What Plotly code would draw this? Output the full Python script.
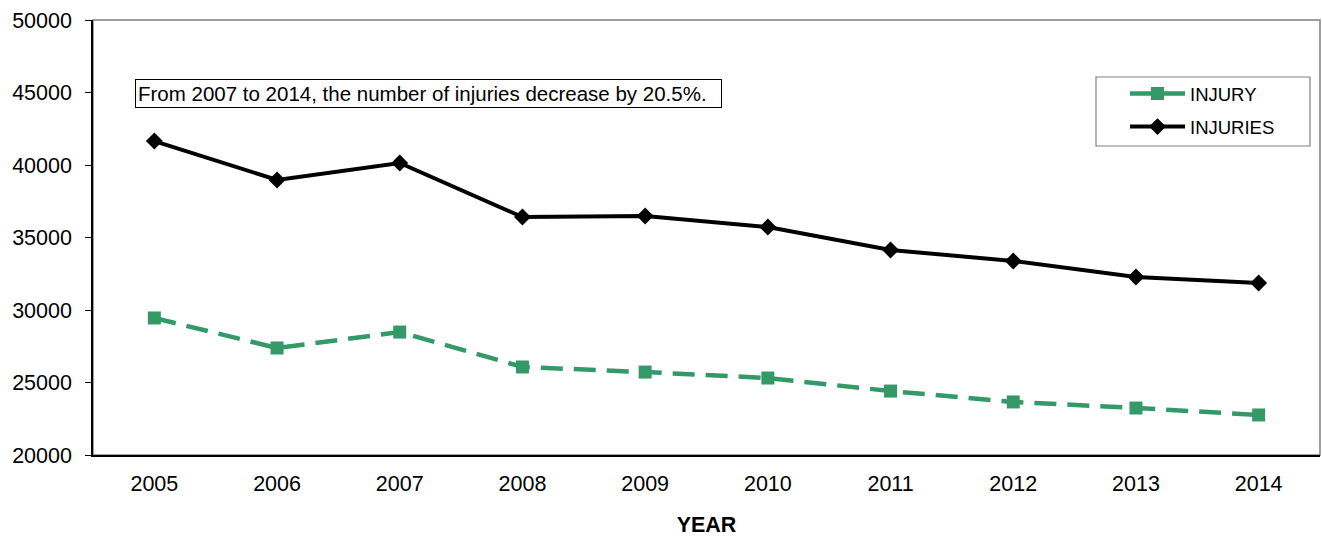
import plotly.graph_objects as go

years = ["2005", "2006", "2007", "2008", "2009", "2010", "2011", "2012", "2013", "2014"]
injury = [29450, 27380, 28480, 26070, 25720, 25310, 24410, 23660, 23240, 22760]
injuries = [41650, 38970, 40140, 36410, 36480, 35720, 34140, 33380, 32280, 31860]
y_ticks = [20000, 25000, 30000, 35000, 40000, 45000, 50000]
y_tick_labels = ["20000", "25000", "30000", "35000", "40000", "45000", "50000"]

GREEN = "#339966"
FONT = "Liberation Sans, Arial, sans-serif"

fig = go.Figure()
fig.add_trace(go.Scatter(
    x=years, y=injury, name="INJURY", mode="lines+markers", legendgroup="a",
    line=dict(color=GREEN, width=4.5, dash="22px,11px"),
    marker=dict(symbol="square", size=13, color=GREEN),
))
fig.add_trace(go.Scatter(
    x=years, y=injuries, name="INJURIES", mode="lines+markers", legendgroup="b",
    line=dict(color="black", width=4),
    marker=dict(symbol="diamond", size=13, color="black"),
))

fig.update_layout(
    width=1322, height=537,
    margin=dict(l=93, r=2, t=20, b=82, autoexpand=False),
    paper_bgcolor="white", plot_bgcolor="white",
    font=dict(family=FONT, size=21, color="black"),
    showlegend=True,
    legend=dict(
        x=(1125 - 93) / 1227, y=(455 - 75) / 435, xanchor="left", yanchor="top",
        bgcolor="rgba(0,0,0,0)", borderwidth=0,
        font=dict(size=18.5), itemwidth=55,
        traceorder="grouped", tracegroupgap=6,
    ),
    xaxis=dict(
        type="category", range=[-0.5, 9.5], automargin=False,
        showline=True, linecolor="black", linewidth=1.5,
        ticks="", showgrid=False, zeroline=False,
        tickfont=dict(size=21.5), ticklabelstandoff=8,
        title=dict(text="<b>YEAR</b>", font=dict(size=21.5), standoff=30),
    ),
    yaxis=dict(
        range=[20000, 50000], tickvals=y_ticks, ticktext=y_tick_labels,
        automargin=False,
        showline=True, linecolor="black", linewidth=1.5,
        ticks="outside", ticklen=6, tickcolor="black",
        showgrid=False, zeroline=False,
        tickfont=dict(size=21.5), ticklabelstandoff=9,
    ),
    shapes=[
        dict(type="rect", xref="paper", yref="paper", x0=0, x1=1, y0=0, y1=1,
             line=dict(color="#808080", width=1.5), layer="below"),
        dict(type="rect", xref="paper", yref="paper",
             x0=(1096 - 93) / 1227, x1=(1310 - 93) / 1227,
             y0=(455 - 146) / 435, y1=(455 - 77) / 435,
             line=dict(color="#808080", width=1.2), layer="below"),
    ],
    annotations=[
        dict(
            xref="paper", yref="paper", x=(135 - 93) / 1227, y=(455 - 79) / 435,
            xanchor="left", yanchor="top", showarrow=False,
            text="From 2007 to 2014, the number of injuries decrease by 20.5%.",
            width=581, align="left",
            font=dict(size=20.5), bordercolor="black", borderwidth=1, borderpad=2,
            bgcolor="white",
        )
    ],
)

fig.write_html(
    "out.html",
    config={"displayModeBar": False},
    post_script="document.body.style.margin='0';document.body.style.overflow='hidden';",
)
